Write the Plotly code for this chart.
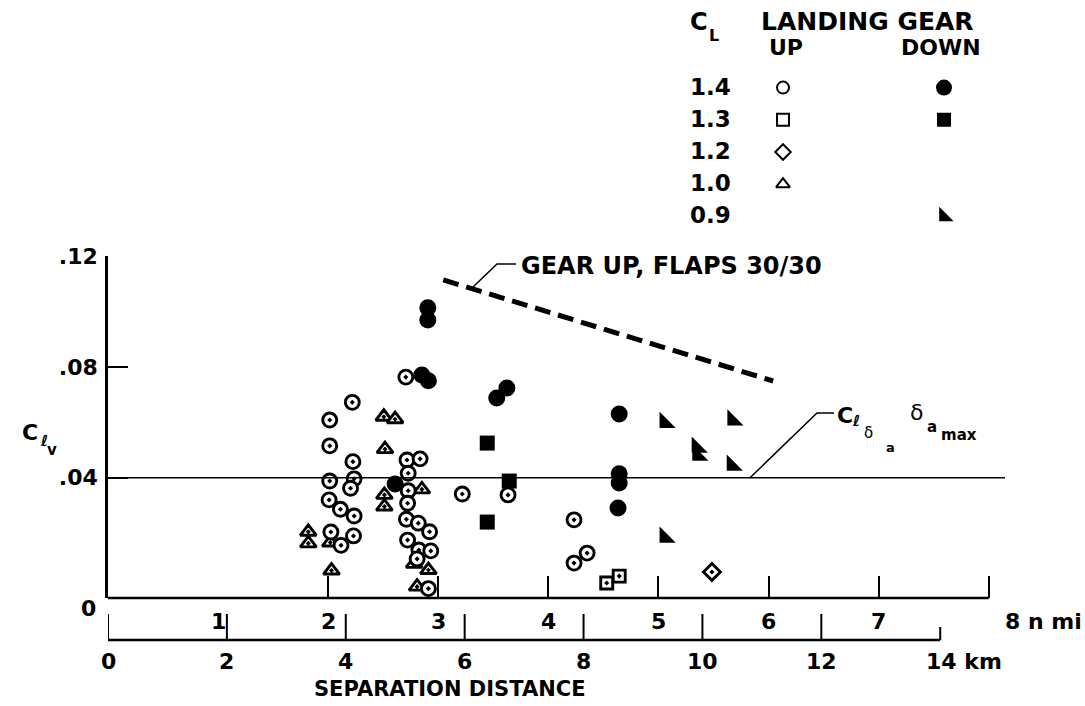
import plotly.graph_objects as go

NMI_KM = 1.852

# ---- measured points: separation distance (km) vs rolling-moment coefficient C_lv ----
# landing gear UP
up_cl14_x = [4.11, 3.73, 3.73, 4.12, 3.73, 4.14, 4.08, 3.72, 3.91, 4.14, 3.75, 4.13, 3.92,
             5.01, 5.03, 5.25, 5.05, 5.05, 5.04, 5.02, 5.22, 5.41, 5.04, 5.23, 5.43, 5.20,
             5.39, 5.96, 6.73, 7.84, 8.06, 7.84]
up_cl14_y = [0.0672, 0.0608, 0.0515, 0.0458, 0.0388, 0.0396, 0.0362, 0.0320, 0.0286, 0.0262,
             0.0204, 0.0190, 0.0156, 0.0763, 0.0464, 0.0468, 0.0416, 0.0353, 0.0308, 0.0250,
             0.0236, 0.0205, 0.0175, 0.0139, 0.0136, 0.0107, 0.0000, 0.0341, 0.0338, 0.0248,
             0.0128, 0.0092]
up_cl13_x = [8.39, 8.60]
up_cl13_y = [0.0020, 0.0045]
up_cl12_x = [10.16]
up_cl12_y = [0.0060]
up_cl10_x = [4.64, 4.83, 4.66, 4.65, 4.65, 3.37, 3.37, 3.74, 3.76, 5.28, 5.15, 5.39, 5.20]
up_cl10_y = [0.0620, 0.0611, 0.0503, 0.0338, 0.0296, 0.0205, 0.0163, 0.0166, 0.0065,
             0.0358, 0.0089, 0.0067, 0.0007]
# landing gear DOWN
dn_cl14_x = [5.38, 5.38, 5.28, 5.39, 4.83, 6.54, 6.71, 8.60, 8.60, 8.60, 8.58]
dn_cl14_y = [0.1013, 0.0969, 0.0771, 0.0750, 0.0377, 0.0688, 0.0724, 0.0630, 0.0414,
             0.0381, 0.0291]
dn_cl13_x = [6.38, 6.38, 6.75]
dn_cl13_y = [0.0525, 0.0240, 0.0388]
dn_cl09_x = [9.37, 10.51, 9.91, 9.92, 10.50, 9.37]
dn_cl09_y = [0.0599, 0.0608, 0.0510, 0.0481, 0.0445, 0.0185]

# gear up, flaps 30/30 boundary
flaps_x = [5.64, 11.19]
flaps_y = [0.1114, 0.0749]

# available roll control, C_l_delta_a * delta_a_max
roll_ctrl_level = 0.04

# axis scales
nmi_ticks = [2, 3, 4, 5, 6, 7, 8]
nmi_labels = ["1", "2", "3", "4", "5", "6", "7"]
km_ticks = [0, 2, 4, 6, 8, 10, 12, 14]
y_ticks = [0.04, 0.08, 0.12]
y_ticktext = [".04", ".08", ".12"]

# legend table: rows are C_L values, columns are gear UP / DOWN
legend_cl = ["1.4", "1.3", "1.2", "1.0", "0.9"]
legend_up = ["circle-open", "square-open", "diamond-open", "triangle-up-open", None]
legend_dn = ["circle", "square", None, None, "triangle-sw"]
legend_dn_size = {"circle": 16, "square": 14, "triangle-sw": 16}

# ---- page geometry (pixels) ----
W, H = 1085, 706
L, R, T, B = 108, 1005, 256, 598
X_RANGE = [0, 15.09]
Y_RANGE = [-0.0034, 0.12]
FONT = "DejaVu Sans"


def fx(px):
    return px / W


def fy(py):
    return 1 - py / H


def dx(px):
    return X_RANGE[0] + (px - L) / (R - L) * (X_RANGE[1] - X_RANGE[0])


def dy(py):
    return Y_RANGE[0] + (B - py) / (B - T) * (Y_RANGE[1] - Y_RANGE[0])


annotations = []


def label(s, px, py, size, xanchor="center", weight="bold", xref="paper", x=None, xshift=0):
    annotations.append(dict(
        text=s, x=fx(px) if x is None else x, y=fy(py), xref=xref, yref="paper",
        xanchor=xanchor, yanchor="middle", showarrow=False, xshift=xshift,
        font=dict(family=FONT, size=size, color="black", weight=weight)))


fig = go.Figure()

open_style = dict(color="white", line=dict(color="black", width=2.9))
fig.add_trace(go.Scatter(x=dn_cl14_x, y=dn_cl14_y, mode="markers",
                         marker=dict(symbol="circle", size=17, color="black")))
fig.add_trace(go.Scatter(x=dn_cl13_x, y=dn_cl13_y, mode="markers",
                         marker=dict(symbol="square", size=15, color="black")))
fig.add_trace(go.Scatter(x=dn_cl09_x, y=dn_cl09_y, mode="markers",
                         marker=dict(symbol="triangle-sw", size=18, color="black")))
fig.add_trace(go.Scatter(x=up_cl10_x, y=up_cl10_y, mode="markers",
                         marker=dict(symbol="triangle-up-dot", size=14, **open_style)))
fig.add_trace(go.Scatter(x=up_cl14_x, y=up_cl14_y, mode="markers",
                         marker=dict(symbol="circle-dot", size=14, **open_style)))
fig.add_trace(go.Scatter(x=up_cl13_x, y=up_cl13_y, mode="markers",
                         marker=dict(symbol="square-dot", size=12, **open_style)))
fig.add_trace(go.Scatter(x=up_cl12_x, y=up_cl12_y, mode="markers",
                         marker=dict(symbol="diamond-dot", size=13, **open_style)))

# dashed boundary for gear up, flaps 30/30
fig.add_trace(go.Scatter(x=flaps_x, y=flaps_y, mode="lines",
                         line=dict(color="black", width=5, dash="16px,8px")))

# legend table keys on their own small grid (column 0 = UP, column 1 = DOWN)
up_rows = [i for i, s in enumerate(legend_up) if s]
dn_rows = [i for i, s in enumerate(legend_dn) if s]
fig.add_trace(go.Scatter(x=[0] * len(up_rows), y=up_rows, xaxis="x2", yaxis="y2",
                         mode="markers",
                         marker=dict(symbol=[legend_up[i] for i in up_rows], size=12,
                                     color="#000000", opacity=1,
                                     line=dict(color="#000000", width=2))))
fig.add_trace(go.Scatter(x=[1] * len(dn_rows), y=dn_rows, xaxis="x2", yaxis="y2",
                         mode="markers",
                         marker=dict(symbol=[legend_dn[i] for i in dn_rows],
                                     size=[legend_dn_size[legend_dn[i]] for i in dn_rows],
                                     color="#000000", opacity=1,
                                     line=dict(color="#000000", width=0))))

shapes = []
# C_l_delta_a * delta_a_max reference level
shapes.append(dict(type="line", xref="x", yref="y", x0=0, x1=X_RANGE[1],
                   y0=roll_ctrl_level, y1=roll_ctrl_level, line=dict(color="black", width=1.6)))
# bottom frame line, ending at 8 n mi
shapes.append(dict(type="line", xref="x", yref="paper", x0=0, x1=8 * NMI_KM,
                   y0=fy(B), y1=fy(B), line=dict(color="black", width=2.6)))
# leader lines
shapes.append(dict(type="path", xref="x", yref="y",
                   path=f"M {dx(473)} {dy(287)} L {dx(497)} {dy(264)} L {dx(516)} {dy(264)}",
                   line=dict(color="black", width=1.5)))
shapes.append(dict(type="path", xref="x", yref="y",
                   path=f"M {dx(750)} {roll_ctrl_level} L {dx(817)} {dy(413)} L {dx(834)} {dy(413)}",
                   line=dict(color="black", width=1.5)))
# separate distance scale: n mi above, km below
scale_y = fy(640)
shapes.append(dict(type="line", xref="x", yref="paper", x0=0, x1=14, y0=scale_y, y1=scale_y,
                   line=dict(color="black", width=2.4)))
for k in km_ticks:
    top = fy(627) if k == 14 else fy(614)
    shapes.append(dict(type="line", xref="x", yref="paper", x0=k, x1=k, y0=scale_y, y1=top,
                       line=dict(color="black", width=2)))

for i, s in enumerate(nmi_labels):
    label(s, 0, 621, 22, xref="x", x=(i + 1) * NMI_KM)
label("8 n mi", 0, 621, 22, xanchor="left", xref="x", x=8 * NMI_KM, xshift=14)
for k in km_ticks[:-1]:
    label(str(k), 0, 661, 22, xref="x", x=k)
label("14 km", 0, 661, 22, xanchor="left", xref="x", x=14, xshift=-16)
label("SEPARATION DISTANCE", 450, 689, 21)

# y axis zero and title
label("0", 88, 608, 22)
label("C", 30, 432, 22)
label("ℓ", 44, 441, 15)
label("v", 52, 450, 15)

# curve labels
label("GEAR UP, FLAPS 30/30", 519, 266, 24, xanchor="left")
label("C", 845, 415, 22)
label("ℓ", 856, 421, 15)
label("δ", 868, 433, 15, weight="normal")
label("a", 890, 447, 13)
label("δ", 916, 412, 22, weight="normal")
label("a", 932, 427, 15)
label("max", 959, 435, 15)

# legend table text
label("C", 699, 22, 24)
label("L", 714, 35, 16)
label("LANDING GEAR", 867, 21, 25)
label("UP", 786, 47, 22)
label("DOWN", 941, 47, 22)
for py, s in zip([88, 120, 152, 184, 216], legend_cl):
    label(s, 710, py - 1, 23)

fig.update_layout(
    width=W, height=H,
    margin=dict(l=0, r=0, t=0, b=0, pad=0, autoexpand=False),
    paper_bgcolor="white", plot_bgcolor="rgba(0,0,0,0)", showlegend=False,
    shapes=shapes, annotations=annotations,
    xaxis=dict(domain=[L / W, R / W], range=X_RANGE, showgrid=False, zeroline=False,
               showline=False, anchor="y", automargin=False,
               tickvals=[n * NMI_KM for n in nmi_ticks], ticks="inside", ticklen=22,
               tickwidth=2, tickcolor="black", showticklabels=False),
    yaxis=dict(domain=[fy(B), fy(T)], range=Y_RANGE, showgrid=False, zeroline=False,
               showline=True, anchor="x", automargin=False,
               linecolor="black", linewidth=2.6, tickvals=y_ticks, ticktext=y_ticktext,
               ticks="inside", ticklen=20, tickwidth=2, tickcolor="black",
               ticklabelstandoff=3,
               tickfont=dict(family=FONT, size=22, color="black", weight="bold")),
    xaxis2=dict(domain=[702.5 / W, 1024.5 / W], range=[-0.5, 1.5], visible=False,
                anchor="y2", automargin=False),
    yaxis2=dict(domain=[fy(232.5), fy(71.5)], range=[4.5, -0.5], visible=False,
                anchor="x2", automargin=False),
)

fig.write_html("out.html")
